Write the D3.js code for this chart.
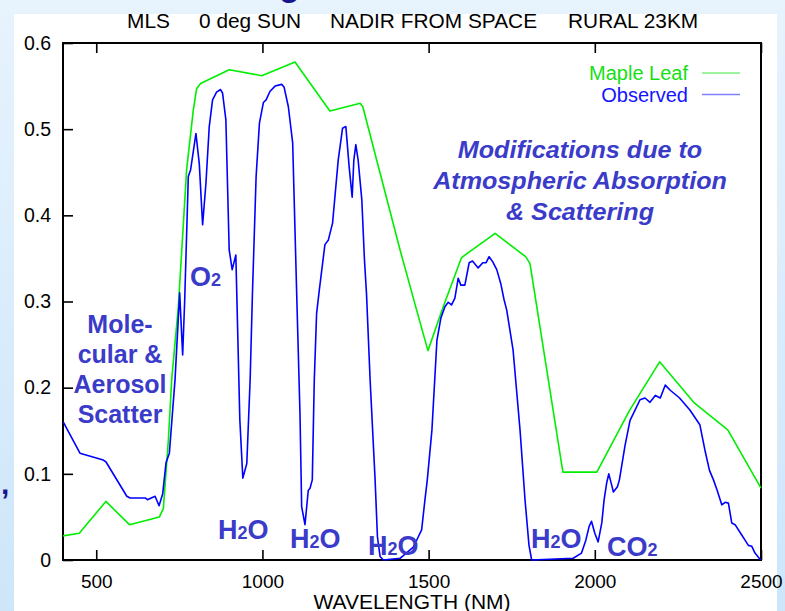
<!DOCTYPE html>
<html>
<head>
<meta charset="utf-8">
<script src="https://cdn.jsdelivr.net/npm/d3@7"></script>
<style>
  body { margin: 0; }
  svg { display: block; font-family: "Liberation Sans", Arial, Helvetica, sans-serif; }
</style>
</head>
<body>
<svg width="785" height="611"></svg>
<script>
// observed spectrum (blue)
var obsWavelength = [401, 451, 521, 529, 592, 602, 647, 654, 677, 689, 700, 710, 720, 737, 751, 760, 766, 777, 784,
    800, 810, 820, 830, 840, 850, 862, 874, 880, 890, 900, 909, 920, 924, 932, 941, 953, 963, 970, 981, 991,
    1003, 1011, 1023, 1038, 1058, 1065, 1078, 1091, 1095, 1103, 1113, 1118, 1128, 1138, 1143, 1150, 1156, 1163, 1171,
    1188, 1198, 1211, 1228, 1241, 1251, 1261, 1270, 1275, 1281, 1288, 1299, 1307, 1313, 1324, 1339, 1346, 1354, 1364,
    1414, 1454, 1469, 1479, 1489, 1496, 1510, 1525, 1537, 1549, 1559, 1569, 1579, 1589, 1597, 1609, 1622, 1632, 1649,
    1663, 1673, 1682, 1693, 1705, 1717, 1727, 1735, 1754, 1775, 1790, 1802, 1810, 1935, 1960, 1973, 1983, 1990, 2000,
    2010, 2021, 2028, 2036, 2042, 2050, 2056, 2068, 2074, 2091, 2106, 2121, 2136, 2151, 2166, 2182, 2197, 2212, 2227,
    2255, 2286, 2316, 2331, 2345, 2357, 2368, 2382, 2392, 2402, 2412, 2422, 2442, 2452, 2462, 2472, 2482, 2497, 2500];
var obsValue = [0.160, 0.124, 0.116, 0.114, 0.074, 0.072, 0.072, 0.070, 0.074, 0.063, 0.077, 0.113, 0.124, 0.209, 0.310, 0.238, 0.300, 0.445, 0.453,
    0.495, 0.460, 0.389, 0.437, 0.503, 0.534, 0.543, 0.546, 0.542, 0.511, 0.360, 0.337, 0.354, 0.290, 0.163, 0.095, 0.112, 0.209, 0.310, 0.445, 0.507,
    0.531, 0.534, 0.544, 0.550, 0.552, 0.549, 0.526, 0.484, 0.426, 0.310, 0.170, 0.062, 0.041, 0.081, 0.083, 0.093, 0.209, 0.286, 0.313,
    0.366, 0.371, 0.391, 0.464, 0.501, 0.503, 0.456, 0.421, 0.464, 0.482, 0.464, 0.418, 0.348, 0.310, 0.209, 0.093, 0.027, 0.004, 0,
    0.002, 0.015, 0.027, 0.035, 0.070, 0.093, 0.151, 0.255, 0.281, 0.294, 0.299, 0.296, 0.304, 0.327, 0.319, 0.319, 0.345, 0.347, 0.339,
    0.345, 0.345, 0.352, 0.346, 0.337, 0.321, 0.302, 0.290, 0.244, 0.151, 0.070, 0.017, 0, 0.002, 0.008, 0.023, 0.039, 0.045, 0.031,
    0.021, 0.043, 0.070, 0.090, 0.100, 0.088, 0.079, 0.085, 0.093, 0.133, 0.162, 0.174, 0.186, 0.188, 0.183, 0.191, 0.188, 0.203, 0.197,
    0.188, 0.174, 0.157, 0.128, 0.104, 0.093, 0.081, 0.064, 0.067, 0.066, 0.043, 0.041, 0.029, 0.023, 0.017, 0.016, 0.008, 0.001, 0];

// maple leaf reference spectrum (green)
var leafWavelength = [400, 449, 529, 600, 690, 702, 717, 727, 747, 772, 792, 802, 814, 900, 998, 1098, 1203, 1294, 1302,
    1414, 1464, 1498, 1544, 1599, 1700, 1792, 1805, 1904, 2006, 2105, 2195, 2300, 2400, 2500];
var leafValue = [0.028, 0.031, 0.068, 0.041, 0.050, 0.060, 0.139, 0.209, 0.294, 0.453, 0.522, 0.547, 0.553, 0.569, 0.562, 0.578, 0.521, 0.530, 0.526,
    0.360, 0.290, 0.243, 0.294, 0.351, 0.379, 0.352, 0.344, 0.102, 0.102, 0.174, 0.230, 0.182, 0.151, 0.0835];

var xTicks = [500, 1000, 1500, 2000, 2500];
var yTicks = [0, 0.1, 0.2, 0.3, 0.4, 0.5, 0.6];
var titleParts = ["MLS", "0 deg SUN", "NADIR FROM SPACE", "RURAL 23KM"];
var seriesNames = ["Maple Leaf", "Observed"];

var svg = d3.select("svg");
var W = 785, H = 611;
var plotL = 63, plotR = 761, plotT = 43, plotB = 560;

// page background
var grad = svg.append("defs").append("linearGradient")
    .attr("id", "bg").attr("x1", 0).attr("y1", 0).attr("x2", 0).attr("y2", 1);
grad.append("stop").attr("offset", "0%").attr("stop-color", "#e7f3fd");
grad.append("stop").attr("offset", "100%").attr("stop-color", "#cde6fa");
svg.append("rect").attr("width", W).attr("height", H).attr("fill", "url(#bg)");
svg.append("rect").attr("x", 14).attr("y", 14).attr("width", 763).attr("height", H - 14).attr("fill", "#fff");

// bits of the slide behind the chart
svg.append("text").attr("x", 279).attr("y", -4).attr("font-size", 34).attr("font-weight", "bold")
    .attr("fill", "#16168c").text("g");
svg.append("text").attr("x", 1).attr("y", 494).attr("font-size", 30).attr("font-weight", "bold")
    .attr("fill", "#16168c").text(",");

var x = d3.scaleLinear().domain([400, 2500]).range([plotL, plotR]);
var y = d3.scaleLinear().domain([0, 0.6]).range([plotB, plotT]);

// axes with inward ticks
var gx = svg.append("g").attr("transform", "translate(0," + plotB + ")")
    .call(d3.axisBottom(x).tickValues(xTicks).tickSizeInner(-10).tickSizeOuter(0).tickPadding(15)
        .tickFormat(d3.format("d")));
var gxTop = svg.append("g").attr("transform", "translate(0," + plotT + ")")
    .call(d3.axisTop(x).tickValues(xTicks).tickSizeInner(-10).tickSizeOuter(0).tickFormat(""));
var gy = svg.append("g").attr("transform", "translate(" + plotL + ",0)")
    .call(d3.axisLeft(y).tickValues(yTicks).tickSizeInner(-10).tickSizeOuter(0).tickPadding(12)
        .tickFormat(function (d) { return d === 0 ? "0" : d3.format(".1f")(d); }));

[gx, gxTop, gy].forEach(function (g) {
    g.select(".domain").remove();
    g.selectAll(".tick line").attr("stroke", "#000").attr("stroke-width", 1.6);
    g.selectAll(".tick text").attr("font-size", 19).attr("font-family", null).attr("fill", "#000");
});
gy.selectAll(".tick text").attr("font-size", 19.5);

svg.append("rect").attr("x", plotL).attr("y", plotT)
    .attr("width", plotR - plotL).attr("height", plotB - plotT)
    .attr("fill", "none").attr("stroke", "#000").attr("stroke-width", 2);

// title and axis label
var titleX = [127, 199, 330, 568];
svg.selectAll(".title").data(titleParts).enter().append("text")
    .attr("class", "title")
    .attr("transform", function (d, i) { return "translate(" + titleX[i] + ",28) scale(1.07,1)"; })
    .attr("font-size", 19.5)
    .text(function (d) { return d; });

svg.append("text").attr("transform", "translate(412,609) scale(1.05,1)").attr("text-anchor", "middle")
    .attr("font-size", 20).text("WAVELENGTH (NM)");

// curves
var line = d3.line()
    .x(function (d) { return x(d[0]); })
    .y(function (d) { return y(d[1]); });

var leaf = leafWavelength.map(function (w, i) { return [w, leafValue[i]]; });
var obs = obsWavelength.map(function (w, i) { return [w, obsValue[i]]; });

svg.append("path").datum(leaf).attr("d", line)
    .attr("fill", "none").attr("stroke", "#00ee00").attr("stroke-width", 1.6).attr("stroke-linejoin", "round");
svg.append("path").datum(obs).attr("d", line)
    .attr("fill", "none").attr("stroke", "#0000ff").attr("stroke-width", 1.6).attr("stroke-linejoin", "round");

// legend
var legendText = ["#14e014", "#1414ff"];
var legendLine = ["#7cf07c", "#8080ff"];
seriesNames.forEach(function (name, i) {
    var ly = 73 + i * 21.5;
    svg.append("text").attr("x", 688).attr("y", ly + 7).attr("text-anchor", "end")
        .attr("font-size", 20).attr("fill", legendText[i]).text(name);
    svg.append("line").attr("x1", 702).attr("x2", 740).attr("y1", ly).attr("y2", ly)
        .attr("stroke", legendLine[i]).attr("stroke-width", 1.3);
});

// annotations
var ann = "#3b3bc9";
function block(lines, cx, y0, dy, italic) {
    lines.forEach(function (t, i) {
        svg.append("text")
            .attr("transform", "translate(" + cx + "," + (y0 + i * dy) + ") scale(" + (italic ? 1.07 : 1) + ",1)")
            .attr("text-anchor", "middle").attr("font-size", italic ? 23.5 : 25)
            .attr("font-weight", "bold").attr("font-style", italic ? "italic" : null)
            .attr("fill", ann).text(t);
    });
}
block(["Mole-", "cular &", "Aerosol", "Scatter"], 120, 333, 30, false);
block(["Modifications due to", "Atmospheric Absorption", "& Scattering"], 580, 158, 31, true);

var chem = [
    {a: "O", s: "2", b: "", x: 190, y: 286},
    {a: "H", s: "2", b: "O", x: 218, y: 539},
    {a: "H", s: "2", b: "O", x: 290, y: 548},
    {a: "H", s: "2", b: "O", x: 368, y: 555},
    {a: "H", s: "2", b: "O", x: 531, y: 548},
    {a: "CO", s: "2", b: "", x: 607, y: 556}
];
chem.forEach(function (c) {
    var t = svg.append("text").attr("x", c.x).attr("y", c.y)
        .attr("font-size", 27).attr("font-weight", "bold").attr("fill", ann);
    t.append("tspan").text(c.a);
    t.append("tspan").attr("font-size", 18).text(c.s);
    if (c.b) t.append("tspan").text(c.b);
});
</script>
</body>
</html>
